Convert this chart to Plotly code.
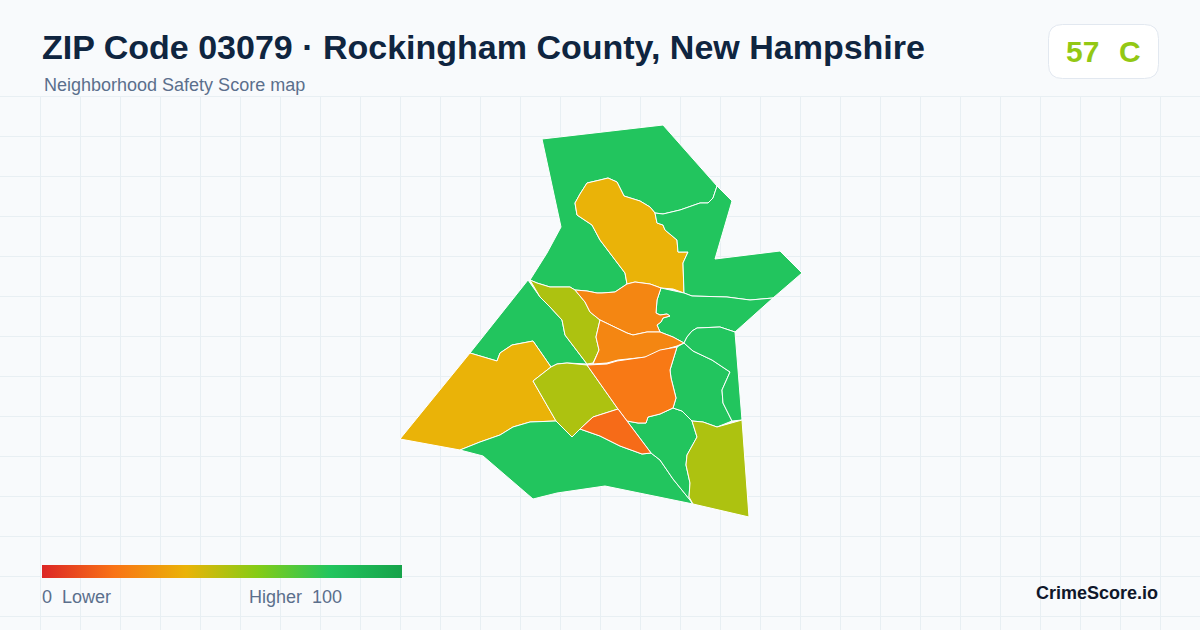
import plotly.graph_objects as go

# ---- data ----
title_text = "ZIP Code 03079 · Rockingham County, New Hampshire"
subtitle_text = "Neighborhood Safety Score map"
overall_score = 57
overall_grade = "C"
brand_text = "CrimeScore.io"
score_stops = [0.0, 0.2, 0.4, 0.6, 0.8, 1.0]
score_colors = ["#dc2626", "#f97316", "#eab308", "#84cc16", "#22c55e", "#16a34a"]

# Neighbourhood outlines, in map units
north_x = [542,600,663,717,713,708,700,680,663,655,650,640,624,617,608,600,587,580,575,577,592,600,613,625,627,615,602,597,587,575,570,550,537,530,547,561]
north_y = [139,132,125,186,198,203,203,210,214,213,207,201,196,182,178,180,183,194,203,215,225,240,257,273,284,292,293,293,291,290,287,287,283,280,253,227]
north_score = 80

northcentral_x = [600,608,617,624,640,650,655,657,663,665,677,678,688,683,684,673,661,650,635,627,625,613,600,592,577,575,580,587]
northcentral_y = [180,178,182,196,201,207,213,223,225,230,240,252,252,263,293,289,288,284,282,284,273,257,240,225,215,203,194,183]
northcentral_score = 40

northeast_x = [717,732,715,780,802,773,750,727,692,684,683,688,678,677,665,663,657,655,663,680,700,708,713]
northeast_y = [186,201,259,251,273,298,300,297,296,293,263,252,252,240,230,225,223,213,214,210,203,203,198]
northeast_score = 80

east_upper_x = [661,684,692,727,750,773,735,720,697,692,687,684,673,660,657,661,663,670,667,660,656,657]
east_upper_y = [288,293,296,297,300,298,332,327,328,331,337,343,337,332,325,322,318,316,314,315,313,300]
east_upper_score = 80

center_north_x = [575,587,597,602,615,627,635,650,661,657,656,660,667,670,663,661,657,660,647,633,627,600,590,585]
center_north_y = [290,291,293,293,292,284,282,284,288,300,313,315,314,316,318,322,325,332,332,335,333,320,312,302]
center_north_score = 26

center_mid_x = [600,627,633,647,660,673,684,677,663,647,618,607,593,599,596]
center_mid_y = [320,333,335,332,332,337,343,346,350,357,360,363,364,350,337]
center_mid_score = 26

west_strip_x = [530,537,550,570,575,585,590,600,596,599,593,587,565,562,550,540]
west_strip_y = [280,283,287,287,290,302,312,320,337,350,363,364,335,320,307,297]
west_strip_score = 52

west_x = [528,540,550,562,565,587,567,557,551,533,512,500,497,470]
west_y = [280,297,307,320,335,364,363,364,367,341,345,353,361,353]
west_score = 80

southwest_x = [400,470,497,500,512,533,551,533,556,530,513,500,480,460]
southwest_y = [439,353,361,353,345,341,367,381,421,422,427,435,442,450]
southwest_score = 40

south_center_x = [551,557,567,587,618,593,580,572,556,533]
south_center_y = [367,364,363,365,409,417,429,437,421,381]
south_center_score = 52

south_x = [460,480,500,513,530,556,572,580,600,620,642,651,660,673,690,693,605,557,533,483]
south_y = [450,442,435,427,422,421,437,429,436,446,454,453,460,479,500,504,486,493,499,456]
south_score = 80

triangle_x = [580,593,618,651,642,620,600]
triangle_y = [429,417,409,453,454,446,436]
triangle_score = 18

central_x = [587,607,617,645,660,677,670,671,676,673,660,648,646,638,627,618]
central_y = [365,364,361,357,350,347,370,378,398,408,414,417,423,423,421,409]
central_score = 22

south_east_inner_x = [627,638,646,648,660,673,682,692,697,687,686,690,689,693,690,673,660,651]
south_east_inner_y = [421,423,423,417,414,408,411,421,437,455,465,483,497,504,500,479,460,453]
south_east_inner_score = 80

southeast_x = [692,703,717,742,749,693,689,690,686,687,697]
southeast_y = [421,422,427,420,517,504,497,483,465,455,437]
southeast_score = 52

east_lower_x = [684,693,712,730,722,723,732,717,703,692,682,673,676,671,670,677]
east_lower_y = [343,351,360,372,390,403,421,427,422,421,411,408,398,378,370,347]
east_lower_score = 80

east_far_x = [684,687,692,697,720,735,742,732,723,722,730,712,693]
east_far_y = [343,337,331,328,327,332,420,421,403,390,372,360,351]
east_far_score = 80

regions = [
    (north_x, north_y, north_score),
    (northcentral_x, northcentral_y, northcentral_score),
    (northeast_x, northeast_y, northeast_score),
    (east_upper_x, east_upper_y, east_upper_score),
    (west_x, west_y, west_score),
    (southwest_x, southwest_y, southwest_score),
    (south_x, south_y, south_score),
    (south_east_inner_x, south_east_inner_y, south_east_inner_score),
    (east_lower_x, east_lower_y, east_lower_score),
    (east_far_x, east_far_y, east_far_score),
    (west_strip_x, west_strip_y, west_strip_score),
    (south_center_x, south_center_y, south_center_score),
    (southeast_x, southeast_y, southeast_score),
    (center_north_x, center_north_y, center_north_score),
    (center_mid_x, center_mid_y, center_mid_score),
    (central_x, central_y, central_score),
    (triangle_x, triangle_y, triangle_score),
]

# ---- style ----
BG = "#f8fafc"
GRID = "#e8eff3"
NAVY = "#0f2540"
SLATE = "#5b6f8c"
SCALE = list(zip(score_stops, score_colors))


def _rgb(h):
    return tuple(int(h[i:i + 2], 16) for i in (1, 3, 5))


def score_color(v):
    t = v / 100
    for (a, ca), (b, cb) in zip(SCALE, SCALE[1:]):
        if t <= b:
            f = (t - a) / (b - a)
            c0, c1 = _rgb(ca), _rgb(cb)
            return "rgb(%d,%d,%d)" % tuple(round(p + (q - p) * f) for p, q in zip(c0, c1))
    return SCALE[-1][1]


fig = go.Figure()
for xs, ys, s in regions:
    fig.add_trace(go.Scatter(
        x=xs + xs[:1], y=ys + ys[:1], mode="lines", fill="toself",
        fillcolor=score_color(s), line=dict(color="#ffffff", width=1),
        hoverinfo="skip", showlegend=False,
    ))

# colour ramp legend comes from a colorbar on an off-canvas helper trace
fig.add_trace(go.Scatter(
    x=[-50, -50], y=[-50, -50], mode="markers", hoverinfo="skip", showlegend=False,
    marker=dict(
        size=1, color=[0, 100], cmin=0, cmax=100, colorscale=SCALE, showscale=True,
        colorbar=dict(
            orientation="h", lenmode="pixels", len=360,
            thicknessmode="pixels", thickness=13,
            x=42 / 1200, xanchor="left", y=1 - 578 / 630, yanchor="bottom",
            xpad=0, ypad=0, outlinewidth=0, borderwidth=0,
            showticklabels=False, ticks="",
        ),
    ),
))


def label(x, y, text, size, color, bold=False, anchor="left"):
    fig.add_annotation(
        x=x, y=y, xref="x", yref="y", text=f"<b>{text}</b>" if bold else text,
        showarrow=False, xanchor=anchor, yanchor="middle",
        borderpad=0, borderwidth=0,
        font=dict(family="Liberation Sans, Arial, sans-serif", size=size, color=color),
    )


label(42, 47, title_text, 34, NAVY, bold=True)
label(44, 85, subtitle_text, 18, SLATE)
badge_color = score_color(overall_score)
label(1066, 51, str(overall_score), 30, badge_color, bold=True)
label(1119, 51, overall_grade, 30, badge_color, bold=True)
label(42, 597, "0", 18, SLATE)
label(62, 597, "Lower", 18, SLATE)
label(249, 597, "Higher", 18, SLATE)
label(312, 597, "100", 18, SLATE)
label(1158, 593, brand_text, 18, "#0f172a", bold=True, anchor="right")

fig.update_layout(
    width=1200, height=630, margin=dict(l=0, r=0, t=0, b=0),
    paper_bgcolor=BG, plot_bgcolor=BG, showlegend=False,
    xaxis=dict(range=[0, 1200], showgrid=True, gridcolor=GRID, gridwidth=1, tick0=0.5, dtick=40,
               zeroline=False, showline=False, showticklabels=False, ticks="", fixedrange=True),
    yaxis=dict(range=[630, 0], showgrid=True, gridcolor=GRID, gridwidth=1, tick0=16.5, dtick=40,
               zeroline=False, showline=False, showticklabels=False, ticks="", fixedrange=True),
    shapes=[
        dict(type="rect", layer="between", xref="x", yref="y", x0=-1, x1=1201, y0=-1, y1=96,
             fillcolor=BG, line=dict(width=0)),
        dict(type="path", layer="above", xref="x", yref="y",
             path="M1062.5,24.5 H1144.5 Q1158.5,24.5 1158.5,38.5 V64.5 Q1158.5,78.5 1144.5,78.5 "
                  "H1062.5 Q1048.5,78.5 1048.5,64.5 V38.5 Q1048.5,24.5 1062.5,24.5 Z",
             fillcolor="#ffffff", line=dict(color="#e2e8f0", width=1)),
    ],
)
fig.write_html("out.html", config={"displayModeBar": False},
               post_script="document.body.style.margin='0';")
